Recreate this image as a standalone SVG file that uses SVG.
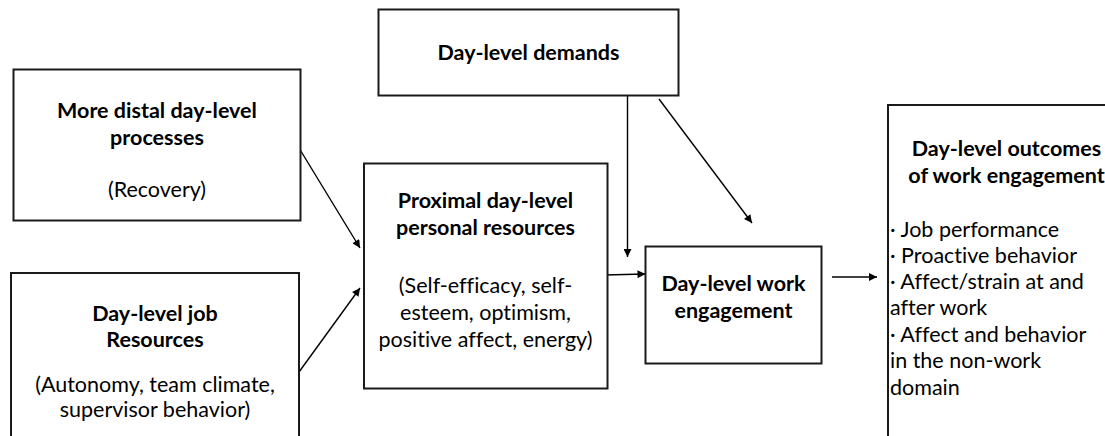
<svg xmlns="http://www.w3.org/2000/svg" width="1105" height="436" viewBox="0 0 1105 436">
<defs>
<marker id="ah" viewBox="0 0 10 10" refX="10" refY="5" markerWidth="10" markerHeight="8" markerUnits="userSpaceOnUse" orient="auto">
<path d="M0,0 L10,5 L0,10 Z" fill="#000"/>
</marker>
<style>
.box{fill:#fff;stroke:#1a1a1a;stroke-width:2}
.t{font-family:Lato,"Liberation Sans",sans-serif;font-size:21.5px;fill:#000;font-variant-ligatures:none;font-feature-settings:"liga" 0,"dlig" 0}
.b{font-weight:bold;text-anchor:middle}
.n{text-anchor:middle}
.l{text-anchor:start}
.c{stroke:#000;stroke-width:1.4;fill:none;marker-end:url(#ah)}
</style>
</defs>
<rect width="1105" height="436" fill="#fff"/>
<g id="connectors">
<line class="c" x1="299" y1="148" x2="360" y2="248"/>
<line class="c" x1="299" y1="372" x2="360" y2="288"/>
<line class="c" x1="627.5" y1="89" x2="627.5" y2="257"/>
<line class="c" x1="659" y1="99" x2="752" y2="223"/>
<line class="c" x1="604" y1="275" x2="645.5" y2="274"/>
<line class="c" x1="832" y1="277" x2="877" y2="277"/>
</g>
<g id="distal">
<rect class="box" x="13.5" y="69.5" width="287" height="151"/>
<text class="t b" x="157" y="118">More distal day-level</text>
<text class="t b" x="157" y="145">processes</text>
<text class="t n" x="157" y="197">(Recovery)</text>
</g>
<g id="jobres">
<rect class="box" x="11" y="273" width="288" height="180"/>
<text class="t b" x="155" y="321">Day-level job</text>
<text class="t b" x="155" y="347">Resources</text>
<text class="t n" x="155" y="392">(Autonomy, team climate,</text>
<text class="t n" x="155" y="417">supervisor behavior)</text>
</g>
<g id="demands">
<rect class="box" x="378.5" y="9.5" width="300" height="86"/>
<text class="t b" x="528.5" y="60">Day-level demands</text>
</g>
<g id="proximal">
<rect class="box" x="364" y="163.5" width="243.5" height="225"/>
<text class="t b" x="485.5" y="208">Proximal day-level</text>
<text class="t b" x="485.5" y="235">personal resources</text>
<text class="t n" x="485.5" y="293">(Self-efficacy, self-</text>
<text class="t n" x="485.5" y="320">esteem, optimism,</text>
<text class="t n" x="485.5" y="347">positive affect, energy)</text>
</g>
<g id="engagement">
<rect class="box" x="645.5" y="246.5" width="176" height="117"/>
<text class="t b" x="733.5" y="291">Day-level work</text>
<text class="t b" x="733.5" y="318">engagement</text>
</g>
<g id="outcomes">
<rect class="box" x="888" y="105" width="240" height="360"/>
<text class="t b" x="1006.5" y="156">Day-level outcomes</text>
<text class="t b" x="1006.5" y="183">of work engagement</text>
<text class="t l" x="890" y="237">· Job performance</text>
<text class="t l" x="890" y="263">· Proactive behavior</text>
<text class="t l" x="890" y="289">· Affect/strain at and</text>
<text class="t l" x="890" y="315">after work</text>
<text class="t l" x="890" y="342">· Affect and behavior</text>
<text class="t l" x="890" y="368">in the non-work</text>
<text class="t l" x="890" y="395">domain</text>
</g>
</svg>
